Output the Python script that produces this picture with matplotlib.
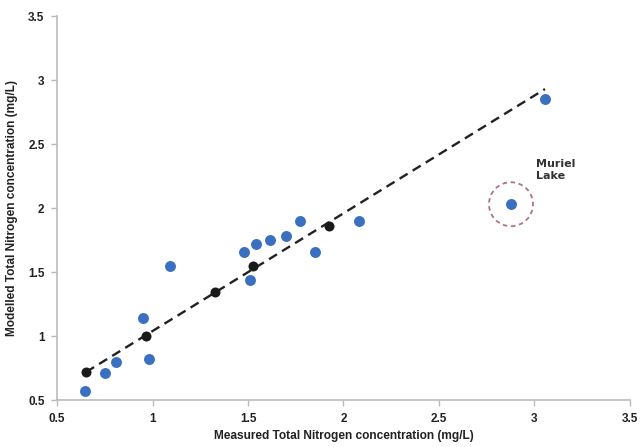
import numpy as np
import matplotlib
matplotlib.use("Agg")
import matplotlib.pyplot as plt
from matplotlib.patches import Ellipse

# measured vs modelled TN, blue lakes
meas_tn = [0.646, 0.751, 0.809, 0.952, 0.98, 1.09, 1.48, 1.51, 1.54, 1.615,
           1.70, 1.77, 1.85, 2.08, 3.055]
model_tn = [0.57, 0.711, 0.80, 1.14, 0.82, 1.55, 1.66, 1.44, 1.72, 1.75,
            1.78, 1.90, 1.66, 1.90, 2.85]

# black points sitting on the fit line
fit_x = [0.652, 0.966, 1.327, 1.526, 1.924]
fit_y = [0.719, 1.0, 1.344, 1.547, 1.86]

# dashed line ends
line_x = [0.652, 3.055]
line_y = [0.719, 2.93]

muriel_x = 2.877
muriel_y = 2.03

ticks = [0.5, 1, 1.5, 2, 2.5, 3, 3.5]
tick_labels = ["0.5", "1", "1.5", "2", "2.5", "3", "3.5"]

plt.rcParams['font.family'] = ['Liberation Sans', 'DejaVu Sans']

fig = plt.figure(figsize=(6.43, 4.47), dpi=100)
ax = fig.add_axes([0.0887, 0.105, 0.891, 0.859])

blue = '#3b6fbf'
ax.plot(line_x, line_y, '--', color='#222222', lw=1.7, dashes=(4, 2.5), zorder=2)
ax.scatter(meas_tn, model_tn, s=62, color=blue, zorder=3, linewidths=0)
ax.scatter([muriel_x], [muriel_y], s=62, color=blue, zorder=3, linewidths=0)
ax.scatter(fit_x, fit_y, s=52, color='#1a1a1a', zorder=4, linewidths=0)

# dashed ring round Muriel Lake (data units -> ~22 px radius)
ring = Ellipse((muriel_x, muriel_y), width=44 / 191, height=44 / 128,
               fill=False, ls=(0, (2.5, 2)), lw=1.3, edgecolor='#b07480', zorder=2)
ax.add_patch(ring)
ax.text(3.01, 2.38, "Muriel\nLake", fontsize=8, fontweight='bold',
        color='#333333', va='top', ha='left', family=['DejaVu Sans'],
        linespacing=1.15)

ax.set_xlim(0.5, 3.5)
ax.set_ylim(0.5, 3.5)
ax.set_xticks(ticks)
ax.set_xticklabels(tick_labels)
ax.set_yticks(ticks)
ax.set_yticklabels(tick_labels)
for lbl in ax.get_xticklabels() + ax.get_yticklabels():
    lbl.set_fontweight('bold')
    lbl.set_fontsize(8.5)
    lbl.set_color('#222222')

ax.spines['top'].set_visible(False)
ax.spines['right'].set_visible(False)
for s in ('left', 'bottom'):
    ax.spines[s].set_color('#bbbbbb')
    ax.spines[s].set_linewidth(1.2)
ax.tick_params(axis='both', color='#bbbbbb', length=4, width=1, pad=5)

ax.set_xlabel("Measured Total Nitrogen concentration (mg/L)", fontsize=8.6,
              fontweight='bold', color='#222222', labelpad=4)
ax.set_ylabel("Modelled Total Nitrogen concentration (mg/L)", fontsize=8.6,
              fontweight='bold', color='#222222', labelpad=7)

fig.savefig("out.png", dpi=100)
